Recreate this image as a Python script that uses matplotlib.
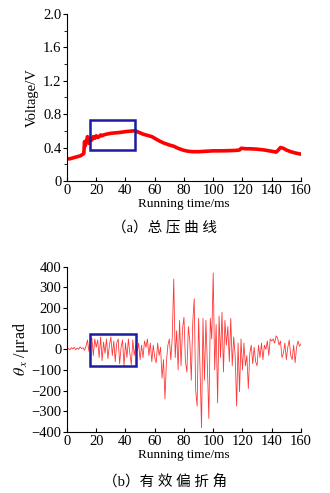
import numpy as np
import matplotlib.pyplot as plt
from matplotlib.patches import Rectangle
from matplotlib.ticker import MultipleLocator

plt.rcParams['font.family'] = ['Liberation Serif', 'Noto Sans CJK SC']
plt.rcParams['mathtext.fontset'] = 'stix'

# (a) total pressure voltage
volt_t = [0, 1, 2, 3, 4, 5, 6, 7, 8, 9, 10, 11, 11.5, 12, 12.5, 13, 13.5, 14, 14.5, 15,
          16, 17, 18, 19, 20, 21, 22, 23, 24, 25, 27, 30, 33, 36, 40, 43, 46, 47, 48,
          50, 52, 55, 58, 60, 63, 66, 70, 73, 76, 80, 83, 86, 90, 95, 100, 105, 110,
          115, 118, 119, 120, 122, 125, 130, 135, 140, 143, 144, 145, 146, 148, 150,
          153, 156, 160]
volt_v = [0.27, 0.265, 0.265, 0.27, 0.275, 0.28, 0.285, 0.29, 0.295, 0.30, 0.31, 0.32,
          0.33, 0.47, 0.42, 0.48, 0.46, 0.53, 0.47, 0.45,
          0.50, 0.49, 0.53, 0.51, 0.54, 0.52, 0.53, 0.55, 0.54, 0.55, 0.56, 0.57, 0.575,
          0.58, 0.59, 0.595, 0.60, 0.60, 0.59,
          0.575, 0.56, 0.545, 0.53, 0.51, 0.48, 0.455, 0.43, 0.415, 0.39, 0.365, 0.355,
          0.35, 0.35, 0.355, 0.36, 0.36, 0.362,
          0.365, 0.37, 0.39, 0.39, 0.385, 0.385, 0.38, 0.37, 0.355, 0.345, 0.36, 0.38,
          0.40, 0.39, 0.37,
          0.35, 0.335, 0.32]

# (b) effective deflection angle
theta_t = list(range(0, 161))
theta_v = [0, 5, -3, 8, 2, 10, -2, 6, 0, 12, 3, 8, -5, 15, 45, -10, 40, 55, -30, 50,
           10, 45, -40, 60, -55, 35, -20, 50, -45, 20, 60, -30, 40, -60, 30, 50, -70, 10, 45, -80,
           30, -40, 50, -20, -75, 45, -30, 20, -10, 30, -50, 20, -40, 40, 10, 50, -30, 30, -60, 20,
           -40, -65, 30, -30, 10, -140, -50, -240, -60, 20, 50, -50, 60, 340, -40, 90, -100, 140, -80, 100,
           155, -60, -110, 110, 40, -150, 130, 245, -200, -275, 150, -100, -380, 150, -150, 140, -80, -335, 150, 50,
           370, -100, 120, -260, 160, -40, 180, -110, 140, 20, 110, -60, 150, -80, 60, -30, -275, 30, -205, 50,
           -100, 30, -80, -30, -190, -20, 20, -70, 10, -60, -80, 20, -40, 30, -50, 20, 0, 40, -30, 50,
           40, 50, 30, 65, 55, 20, 40, -40, -20, 30, -50, 10, 45, -30, -50, 20, -65, 10, 40, 15,
           25]

box_a = (15.5, 0.375, 31.0, 0.36)
box_b = (15.5, -83, 32.0, 156)

fig = plt.figure(figsize=(3.3, 4.93), dpi=100)
ax1 = fig.add_axes([0.203, 0.633, 0.709, 0.339])
ax2 = fig.add_axes([0.203, 0.124, 0.709, 0.335])

ax1.plot(volt_t, volt_v, color='#ff0000', lw=2.6)
ax1.add_patch(Rectangle(box_a[:2], box_a[2], box_a[3], fill=False, ec='#1c1ca0', lw=1.8, zorder=3))
ax1.set_xlim(0, 160)
ax1.set_ylim(0, 2.0)
ax1.set_xticks(range(0, 161, 20))
ax1.set_yticks([0, 0.4, 0.8, 1.2, 1.6, 2.0])
ax1.set_yticklabels(['0', '0.4', '0.8', '1.2', '1.6', '2.0'])
ax1.yaxis.set_minor_locator(MultipleLocator(0.2))
ax1.set_ylabel('Voltage/V', fontsize=10.5, labelpad=3)
ax1.set_xlabel('Running time/ms', fontsize=9.5, labelpad=1)

ax2.plot(theta_t, theta_v, color='#ff3838', lw=0.6)
ax2.add_patch(Rectangle(box_b[:2], box_b[2], box_b[3], fill=False, ec='#1c1ca0', lw=1.8, zorder=3))
ax2.set_xlim(0, 160)
ax2.set_ylim(-400, 400)
ax2.set_xticks(range(0, 161, 20))
ax2.set_yticks(range(-400, 401, 100))
ax2.set_ylabel(r'$\theta_{\,x}$ /μrad', fontsize=11.5, labelpad=0)
ax2.set_xlabel('Running time/ms', fontsize=9.5, labelpad=1)

for ax in (ax1, ax2):
    ax.spines['top'].set_visible(False)
    ax.spines['right'].set_visible(False)
    ax.tick_params(axis='x', direction='in', length=3, labelsize=10.5, pad=2)
    ax.tick_params(axis='y', direction='out', length=3, labelsize=10.5, pad=1)
    ax.tick_params(axis='y', which='minor', direction='out', length=2)

fig.text(0.5, 1 - 228 / 493, '（a）总 压 曲 线', ha='center', va='center', fontsize=10.5)
fig.text(0.5, 1 - 481 / 493, '（b）有 效 偏 折 角', ha='center', va='center', fontsize=10.5)

fig.savefig('out.png', dpi=100)
